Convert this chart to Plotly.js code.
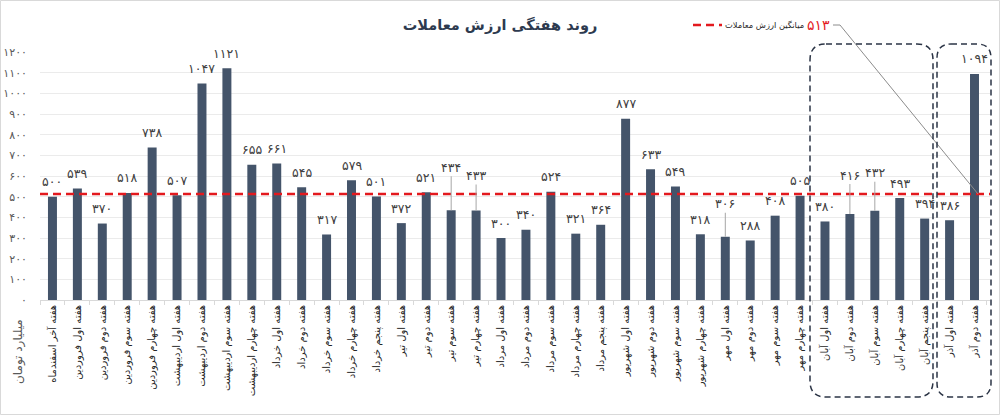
<!DOCTYPE html>
<html><head><meta charset="utf-8">
<script src="https://cdn.plot.ly/plotly-3.0.1.min.js"></script>
<style>html,body{margin:0;padding:0;background:#fff}#chart{width:1000px;height:415px}</style>
</head><body><div id="chart"></div>
<script>
const weeks = [
 'هفته آخر اسفندماه','هفته اول فروردین','هفته دوم فروردین','هفته سوم فروردین','هفته چهارم فروردین',
 'هفته اول اردیبهشت','هفته دوم اردیبهشت','هفته سوم اردیبهشت','هفته چهارم اردیبهشت',
 'هفته اول خرداد','هفته دوم خرداد','هفته سوم خرداد','هفته چهارم خرداد','هفته پنجم خرداد',
 'هفته اول تیر','هفته دوم تیر','هفته سوم تیر','هفته چهارم تیر',
 'هفته اول مرداد','هفته دوم مرداد','هفته سوم مرداد','هفته چهارم مرداد','هفته پنجم مرداد',
 'هفته اول شهریور','هفته دوم شهریور','هفته سوم شهریور','هفته چهارم شهریور',
 'هفته اول مهر','هفته دوم مهر','هفته سوم مهر','هفته چهارم مهر',
 'هفته اول آبان','هفته دوم آبان','هفته سوم آبان','هفته چهارم آبان','هفته پنجم آبان',
 'هفته اول آذر','هفته دوم آذر'
];
const values = [500,539,370,518,738,507,1047,1121,655,661,545,317,579,501,372,521,434,433,300,340,524,321,364,877,633,549,318,306,288,408,505,380,416,432,493,394,386,1094];
const average = 513;
const yTicks = [0,100,200,300,400,500,600,700,800,900,1000,1100,1200];
const chartTitle = 'روند هفتگی ارزش معاملات';
const legendLabel = 'میانگین ارزش معاملات';
const yTitle = 'میلیارد تومان';

function fa(n){return String(n).replace(/\d/g,d=>'۰۱۲۳۴۵۶۷۸۹'[+d]);}

// layout geometry helpers (pixel -> paper)
const ML=40, MR=10, MT=52, MB=115, W=1000, H=415;
const PW=W-ML-MR, PH=H-MT-MB;
const px = x => (x-ML)/PW;
const py = y => (H-MB-y)/PH;

const FONT = 'DejaVu Sans, sans-serif';
const barColor = '#44546A';
const red = '#E3191E';

// leader-line label offsets (style only)
const leaderOffsets = {16:43, 17:35, 27:33, 32:39, 33:38};

const annotations = values.map((v,i)=>{
  const base = {x: weeks[i], y: v, xref:'x', yref:'y', text: fa(v),
    font:{family:FONT, size:12.5, color:'#404040'}};
  if (leaderOffsets[i]!==undefined){
    return Object.assign(base,{showarrow:true, arrowhead:0, arrowwidth:1, arrowcolor:'#a6a6a6',
      ax:0, ay:-leaderOffsets[i], standoff:0});
  }
  return Object.assign(base,{showarrow:false, yanchor:'middle', yshift:15});
});

annotations.push({xref:'paper', yref:'paper', x:px(18), y:py(352), xanchor:'center', yanchor:'middle',
  text:yTitle, textangle:-90, showarrow:false, font:{family:FONT, size:12, color:'#595959'}});
annotations.push({xref:'paper', yref:'paper', x:px(806), y:py(25), xanchor:'right', yanchor:'middle',
  text:legendLabel, showarrow:false, font:{family:FONT, size:8.3, color:'#262626'}});
annotations.push({xref:'paper', yref:'paper', x:px(805), y:py(25), xanchor:'left', yanchor:'middle',
  text:fa(average), showarrow:false, font:{family:FONT, size:14, color:red}});

function roundedBox(x0,x1,y0,y1,r){
  const rx=r/PW, ry=r/PH;
  const X0=px(x0), X1=px(x1), Yt=py(y0), Yb=py(y1);
  return `M ${X0+rx},${Yt} L ${X1-rx},${Yt} Q ${X1},${Yt} ${X1},${Yt-ry} L ${X1},${Yb+ry} Q ${X1},${Yb} ${X1-rx},${Yb} L ${X0+rx},${Yb} Q ${X0},${Yb} ${X0},${Yb+ry} L ${X0},${Yt-ry} Q ${X0},${Yt} ${X0+rx},${Yt} Z`;
}

const shapes = [
  {type:'rect', xref:'paper', yref:'paper', x0:px(0.5), x1:px(999.5), y0:py(414.5), y1:py(0.5),
    line:{color:'#d9d9d9', width:1}, layer:'below'},
  {type:'line', xref:'paper', yref:'y', x0:0, x1:1, y0:average, y1:average,
    line:{color:red, width:2.5, dash:'8px,5px'}, layer:'above'},
  {type:'line', xref:'paper', yref:'paper', x0:px(693), x1:px(722), y0:py(25), y1:py(25),
    line:{color:red, width:2.5, dash:'8px,5px'}},
  {type:'path', xref:'paper', yref:'paper',
    path:`M ${px(833)},${py(25)} L ${px(840)},${py(25)} L ${px(978)},${py(194)}`,
    line:{color:'#8c8c8c', width:1}},
  {type:'path', xref:'paper', yref:'paper', path:roundedBox(810,933,44,397,16),
    line:{color:'#2b3445', width:1.5, dash:'6px,4px'}},
  {type:'path', xref:'paper', yref:'paper', path:roundedBox(937,991,44,397,14),
    line:{color:'#2b3445', width:1.5, dash:'6px,4px'}}
];

const data = [{
  type:'bar', x:weeks, y:values, marker:{color:barColor}, hoverinfo:'x+y'
}];

const layout = {
  width:W, height:H, margin:{l:ML, r:MR, t:MT, b:MB},
  paper_bgcolor:'#fff', plot_bgcolor:'#fff',
  showlegend:false, bargap:0.64,
  title:{text:chartTitle, x:0.5, xref:'container', y:1-25/H, yref:'container', yanchor:'middle',
    font:{family:FONT, size:14.5, color:'#2d3a4f', weight:'bold'}},
  xaxis:{type:'category', tickangle:-90, automargin:false, showgrid:false,
    showline:true, linecolor:'#d9d9d9', linewidth:1,
    ticks:'outside', tickson:'boundaries', ticklen:4, tickcolor:'#d9d9d9',
    tickfont:{family:FONT, size:10, color:'#262626'}},
  yaxis:{range:[0,1200], tickvals:yTicks, ticktext:yTicks.map(fa), automargin:false,
    showgrid:true, gridcolor:'#ebebeb', gridwidth:1, zeroline:false, showline:false,
    ticks:'', ticklabelstandoff:12,
    tickfont:{family:FONT, size:11, color:'#595959'}},
  shapes, annotations
};

Plotly.newPlot('chart', data, layout, {displayModeBar:false, staticPlot:true});
</script></body></html>
